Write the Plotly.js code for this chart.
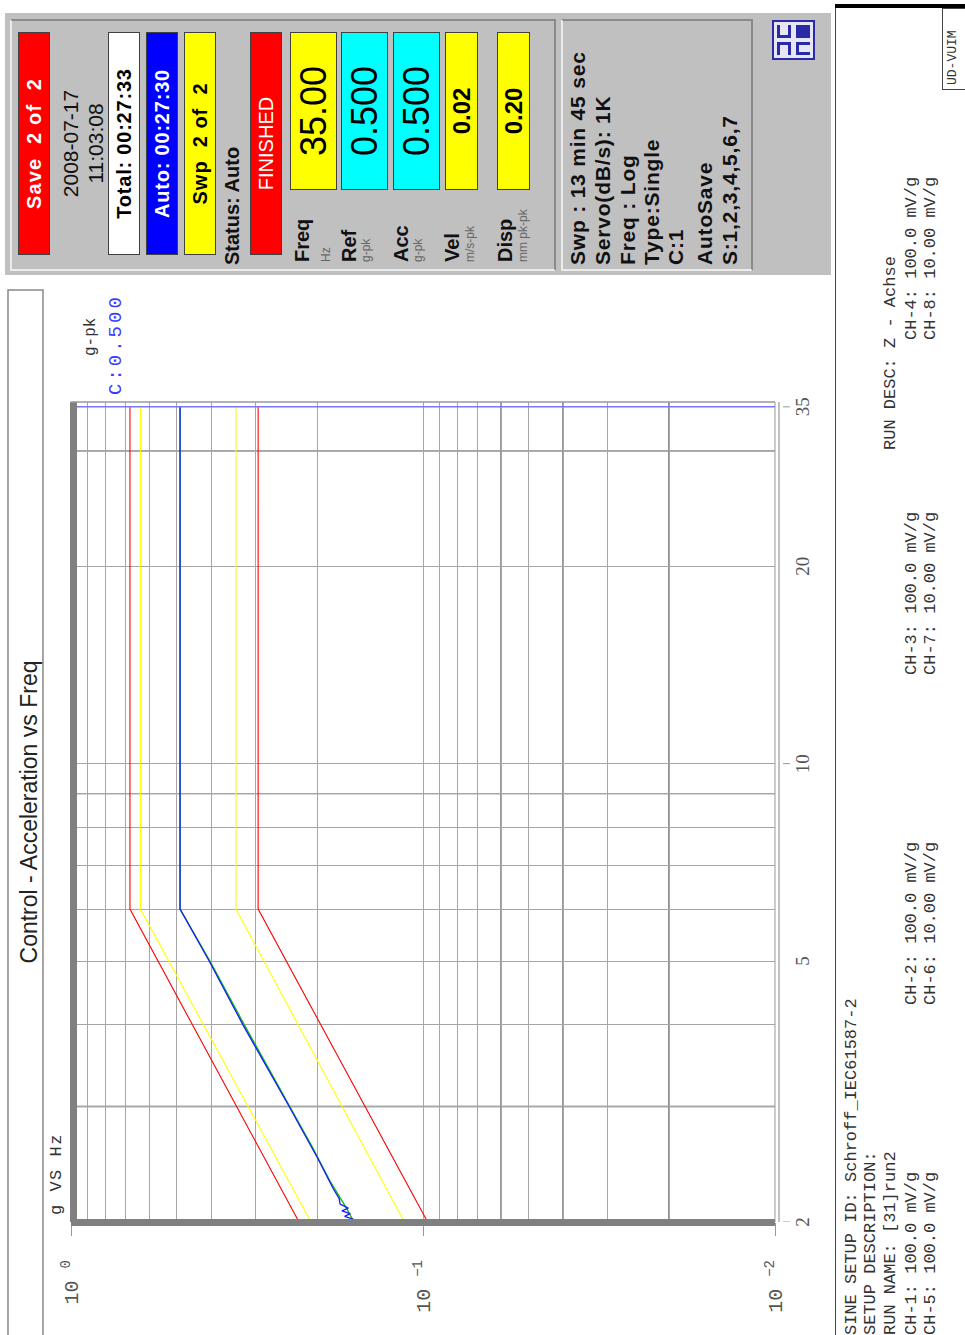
<!DOCTYPE html>
<html>
<head>
<meta charset="utf-8">
<script src="https://cdn.plot.ly/plotly-3.0.1.min.js"></script>
<style>
html,body{margin:0;padding:0;width:965px;height:1335px;overflow:hidden;background:#fff;}
#page{position:absolute;left:0;top:0;width:1335px;height:965px;transform-origin:0 0;transform:translate(0px,1335px) rotate(-90deg);background:#fff;font-family:"Liberation Sans",Arial,sans-serif;overflow:hidden;}
#chart{position:absolute;left:0;top:0;width:1335px;height:965px;}
.a{position:absolute;white-space:pre;}
.box{position:absolute;box-sizing:border-box;border:1px solid #404040;display:flex;align-items:center;justify-content:center;white-space:pre;}
.bevel{position:absolute;box-sizing:border-box;border-top:2px solid #ececec;border-left:2px solid #ececec;border-right:2px solid #8a8a8a;border-bottom:2px solid #8a8a8a;}
.b{font-weight:bold;}
.lbl{position:absolute;left:1073px;font-weight:bold;font-size:20px;line-height:20px;color:#111;white-space:pre;}
.unit{position:absolute;left:1073px;font-size:12px;line-height:12px;color:#666;white-space:pre;}
.sw{position:absolute;left:1070px;font-weight:bold;font-size:21px;line-height:22px;letter-spacing:0.8px;color:#111;white-space:pre;}
.mono{position:absolute;font-family:"Liberation Mono","DejaVu Sans Mono",monospace;font-size:17px;line-height:18px;color:#333;white-space:pre;}
</style>
</head>
<body>
<div id="page">
  <div id="chart"></div>

  <!-- chart side texts -->
  <div class="mono" style="left:120px;top:48px;font-size:17px;letter-spacing:1.5px;color:#333;">g VS Hz</div>
  <div class="mono" style="left:979px;top:82px;font-size:16px;color:#333;">g-pk</div>
  <div class="mono" style="left:940px;top:106px;font-size:19px;line-height:20px;letter-spacing:3px;color:#3a3aff;">C:0.500</div>

  <!-- status panel -->
  <div class="a" style="left:1060px;top:5px;width:262px;height:826px;background:#c0c0c0;"></div>
  <div class="bevel" style="left:1064px;top:10px;width:252px;height:546px;"></div>
  <div class="bevel" style="left:1064px;top:561px;width:252px;height:192px;"></div>

  <div class="box b" style="left:1080px;top:18px;width:223px;height:32px;background:#ff0000;color:#fff;font-size:20px;letter-spacing:1.2px;">Save  2 of  2</div>
  <div class="a" style="left:1080px;top:58px;width:223px;text-align:center;font-size:21px;line-height:25px;color:#111;">2008-07-17
11:03:08</div>
  <div class="box b" style="left:1080px;top:108px;width:223px;height:32px;background:#ffffff;color:#000;font-size:20px;letter-spacing:0.8px;">Total: 00:27:33</div>
  <div class="box b" style="left:1080px;top:146px;width:223px;height:32px;background:#0000ff;color:#fff;font-size:20px;letter-spacing:0.8px;">Auto: 00:27:30</div>
  <div class="box b" style="left:1080px;top:184px;width:223px;height:32px;background:#ffff00;color:#000;font-size:20px;letter-spacing:1px;">Swp  2 of  2</div>
  <div class="a b" style="left:1070px;top:222px;font-size:20px;line-height:20px;color:#111;">Status: Auto</div>
  <div class="box" style="left:1080px;top:250px;width:223px;height:32px;background:#ff0000;color:#fff;font-size:20px;">FINISHED</div>

  <div class="box" style="left:1145px;top:290px;width:158px;height:47px;background:#ffff00;color:#000;font-size:36px;">35.00</div>
  <div class="box" style="left:1145px;top:341px;width:158px;height:47px;background:#00ffff;color:#000;font-size:36px;">0.500</div>
  <div class="box" style="left:1145px;top:393px;width:158px;height:47px;background:#00ffff;color:#000;font-size:36px;">0.500</div>
  <div class="box b" style="left:1145px;top:445px;width:158px;height:33px;background:#ffff00;color:#000;font-size:24px;">0.02</div>
  <div class="box b" style="left:1145px;top:497px;width:158px;height:33px;background:#ffff00;color:#000;font-size:24px;">0.20</div>

  <div class="lbl" style="top:292px;">Freq</div>
  <div class="unit" style="top:320px;">Hz</div>
  <div class="lbl" style="top:339px;">Ref</div>
  <div class="unit" style="top:360px;">g-pk</div>
  <div class="lbl" style="top:391px;">Acc</div>
  <div class="unit" style="top:412px;">g-pk</div>
  <div class="lbl" style="top:442px;">Vel</div>
  <div class="unit" style="top:464px;">m/s-pk</div>
  <div class="lbl" style="top:495px;">Disp</div>
  <div class="unit" style="top:517px;">mm pk-pk</div>

  <div class="sw" style="top:567px;">Swp : 13 min 45 sec</div>
  <div class="sw" style="top:592px;">Servo(dB/s): 1K</div>
  <div class="sw" style="top:617px;">Freq : Log</div>
  <div class="sw" style="top:641px;">Type:Single</div>
  <div class="sw" style="top:665px;">C:1</div>
  <div class="sw" style="top:694px;">AutoSave</div>
  <div class="sw" style="top:719px;">S:1,2,3,4,5,6,7</div>

  <!-- logo -->
  <div class="a" style="left:1275px;top:772px;width:40px;height:43px;box-sizing:border-box;border:2px solid #2a2aa8;background:#e6e6f4;"></div>
  <div class="a" style="left:1280px;top:777px;width:13px;height:14px;box-sizing:border-box;border:3px solid #2a2aa8;border-left:none;"></div>
  <div class="a" style="left:1297px;top:777px;width:13px;height:14px;box-sizing:border-box;border:3px solid #2a2aa8;border-right:none;"></div>
  <div class="a" style="left:1280px;top:796px;width:13px;height:14px;box-sizing:border-box;border:3px solid #2a2aa8;border-bottom:none;"></div>
  <div class="a" style="left:1297px;top:796px;width:13px;height:14px;background:#2a2aa8;"></div>

  <!-- bottom info area -->
  <div class="a" style="left:0px;top:835px;width:1330px;height:0px;border-top:1.5px solid #444;"></div>
  <div class="a" style="left:1327px;top:835px;width:4px;height:130px;background:#000;"></div>
  <div class="a" style="left:1245px;top:942px;width:82px;height:30px;box-sizing:border-box;border:1px solid #444;"></div>
  <div class="mono" style="left:1250px;top:946px;font-size:13px;line-height:14px;">UD-VUIM</div>

  <div class="mono" style="left:0px;top:843px;">SINE SETUP ID: Schroff_IEC61587-2</div>
  <div class="mono" style="left:0px;top:862px;">SETUP DESCRIPTION:</div>
  <div class="mono" style="left:0px;top:882px;">RUN NAME: [31]run2</div>
  <div class="mono" style="left:885px;top:882px;">RUN DESC: Z - Achse</div>
  <div class="mono" style="left:0px;top:903px;">CH-1: 100.0 mV/g</div>
  <div class="mono" style="left:330px;top:903px;">CH-2: 100.0 mV/g</div>
  <div class="mono" style="left:660px;top:903px;">CH-3: 100.0 mV/g</div>
  <div class="mono" style="left:995px;top:903px;">CH-4: 100.0 mV/g</div>
  <div class="mono" style="left:0px;top:922px;">CH-5: 100.0 mV/g</div>
  <div class="mono" style="left:330px;top:922px;">CH-6: 10.00 mV/g</div>
  <div class="mono" style="left:660px;top:922px;">CH-7: 10.00 mV/g</div>
  <div class="mono" style="left:995px;top:922px;">CH-8: 10.00 mV/g</div>
</div>

<script>
// ---- data ----
const freqTickVals = [2, 5, 10, 20, 35];
const freqTickText = ['2', '5', '10', '20', '35'];
const freqTickMarks = [2, 10, 35];
const freqGrid = [3, 4, 5, 6, 7, 8, 9, 10, 20, 30];
const freqGridDark = [3, 9, 30];
const accTickVals = [1, 0.1, 0.01];
const accTickText = ['10 <sup>0</sup>', '10 <sup>\u22121</sup>', '10 <sup>\u22122</sup>'];
const accGrid = [0.9, 0.8, 0.7, 0.6, 0.5, 0.4, 0.3, 0.2, 0.1, 0.09, 0.08, 0.07, 0.06, 0.05, 0.04, 0.03, 0.02];
const accGridDark = [0.06, 0.04, 0.02];
const freqRange = [2, 35.6];
const accRange = [0.01, 1];

const limitFreq = [2, 6, 35];
const abortHigh = [0.225, 0.68, 0.68];
const alarmHigh = [0.208, 0.635, 0.635];
const alarmLow  = [0.113, 0.34, 0.34];
const abortLow  = [0.097, 0.294, 0.294];

const controlFreq = [2.00, 2.02, 2.04, 2.06, 2.08, 2.10, 2.13, 2.17, 2.25, 2.5, 3.0, 4.0, 5.0, 6.0, 35.0];
const controlAcc  = [0.159, 0.158, 0.167, 0.161, 0.170, 0.163, 0.172, 0.173, 0.180, 0.199, 0.240, 0.325, 0.405, 0.49, 0.49];
const refFreq = [2.0, 2.1, 2.3, 2.6, 3.0, 4.0, 5.0, 6.0, 35.0];
const refAcc  = [0.157, 0.165, 0.183, 0.206, 0.239, 0.322, 0.403, 0.49, 0.49];
const cursorFreq = [35];

// ---- traces ----
function lineTrace(x, y, color, w) {
  return {type: 'scatter', mode: 'lines', x: x, y: y, line: {color: color, width: w}, hoverinfo: 'skip', showlegend: false};
}
const traces = [
  lineTrace(limitFreq, abortHigh, '#ff0000', 1.1),
  lineTrace(limitFreq, alarmHigh, '#ffff00', 1.1),
  lineTrace(limitFreq, alarmLow, '#ffff00', 1.1),
  lineTrace(limitFreq, abortLow, '#ff0000', 1.1),
  lineTrace(refFreq, refAcc, '#00c000', 1.3),
  lineTrace(controlFreq, controlAcc, '#1a1aff', 1.3)
];

const shapes = [];
freqGridDark.forEach(f => shapes.push({type: 'line', xref: 'x', x0: f, x1: f, yref: 'paper', y0: 0, y1: 1, line: {color: '#5c5c5c', width: 1.4}, layer: 'below'}));
accGridDark.forEach(a => shapes.push({type: 'line', xref: 'paper', x0: 0, x1: 1, yref: 'y', y0: a, y1: a, line: {color: '#5c5c5c', width: 1.4}, layer: 'below'}));
cursorFreq.forEach(f => shapes.push({type: 'line', xref: 'x', x0: f, x1: f, yref: 'paper', y0: 0, y1: 1, line: {color: '#7777ff', width: 1.5}}));
freqTickMarks.forEach(f => shapes.push({type: 'line', xref: 'x', x0: f, x1: f, yref: 'paper', ysizemode: 'pixel', yanchor: 0, y0: -8, y1: -15, line: {color: '#999', width: 1}}));
// frame
shapes.push({type: 'rect', xref: 'paper', x0: 0, x1: 1, yref: 'paper', ysizemode: 'pixel', yanchor: 1, y0: -6, y1: 1, fillcolor: '#808080', line: {width: 0}});
shapes.push({type: 'rect', xref: 'paper', xsizemode: 'pixel', xanchor: 0, x0: -4, x1: 3, yref: 'paper', y0: 0, y1: 1, fillcolor: '#808080', line: {width: 0}});
shapes.push({type: 'line', xref: 'paper', x0: 0, x1: 1, yref: 'paper', y0: 0, y1: 0, line: {color: '#999', width: 1}});
shapes.push({type: 'line', xref: 'paper', x0: 0, x1: 1, yref: 'paper', ysizemode: 'pixel', yanchor: 0, y0: -4, y1: -4, line: {color: '#999', width: 1.2}});
shapes.push({type: 'line', xref: 'paper', x0: 1, x1: 1, yref: 'paper', y0: 0, y1: 1, line: {color: '#999', width: 1.5}});
// title box
shapes.push({type: 'rect', xref: 'paper', x0: -0.145, x1: 1.1366, yref: 'paper', y0: 1.0398, y1: 1.0895, line: {color: '#888', width: 1.5}, fillcolor: 'rgba(0,0,0,0)'});

const layout = {
  width: 1335, height: 965,
  margin: {l: 113, r: 402, t: 71, b: 190},
  paper_bgcolor: 'rgba(0,0,0,0)', plot_bgcolor: '#fff',
  showlegend: false,
  title: {text: 'Control - Acceleration vs Freq', font: {family: 'Liberation Sans, Arial, sans-serif', size: 23, color: '#222'},
          xref: 'container', x: 523 / 1335, xanchor: 'center', yref: 'container', y: 1 - 29 / 965, yanchor: 'middle'},
  xaxis: {
    type: 'log', range: [Math.log10(freqRange[0]), Math.log10(freqRange[1])],
    tickmode: 'array', tickvals: freqTickVals, ticktext: freqTickText,
    showgrid: false, zeroline: false, showline: false, ticks: '',
    ticklabelstandoff: 14,
    tickfont: {family: 'Liberation Serif, serif', size: 19, color: '#555'},
    minor: {tickmode: 'array', tickvals: freqGrid, showgrid: true, gridcolor: '#a6a6a6', gridwidth: 1, ticks: ''}
  },
  yaxis: {
    type: 'log', range: [Math.log10(accRange[0]), Math.log10(accRange[1])],
    tickmode: 'array', tickvals: accTickVals, ticktext: accTickText,
    showgrid: false, zeroline: false, showline: false,
    ticks: 'outside', ticklen: 13, tickcolor: '#999', tickwidth: 1,
    ticklabelstandoff: 20,
    tickfont: {family: 'Liberation Mono, monospace', size: 20, color: '#555'},
    minor: {tickmode: 'array', tickvals: accGrid, showgrid: true, gridcolor: '#a6a6a6', gridwidth: 1, ticks: ''}
  },
  shapes: shapes
};

Plotly.newPlot('chart', traces, layout, {staticPlot: true, displayModeBar: false});
</script>
</body>
</html>
